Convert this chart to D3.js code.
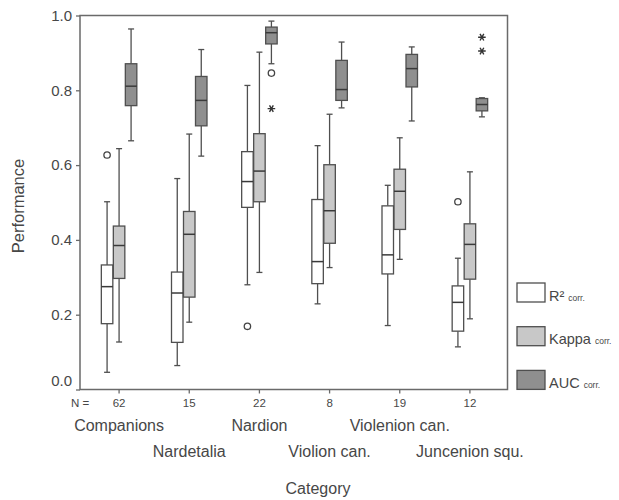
<!DOCTYPE html>
<html>
<head>
<meta charset="utf-8">
<script src="https://cdn.jsdelivr.net/npm/d3@7"></script>
<style>
  body { margin: 0; background: #fff; }
  svg text { font-family: "Liberation Sans", Arial, sans-serif; fill: #474747; }
</style>
</head>
<body>
<svg id="chart" width="619" height="500"></svg>
<script>
// categories and case counts
var categories = ['Companions', 'Nardetalia', 'Nardion', 'Violion can.', 'Violenion can.', 'Juncenion squ.'];
var nValues = [62, 15, 22, 8, 19, 12];
var series = ['R2', 'Kappa', 'AUC'];

// box stats per category: [lower whisker, q1, median, q3, upper whisker]
var r2Stats = [
    [0.046, 0.176, 0.275, 0.333, 0.502],
    [0.064, 0.126, 0.258, 0.314, 0.564],
    [0.280, 0.487, 0.556, 0.636, 0.813],
    [0.229, 0.283, 0.342, 0.508, 0.652],
    [0.171, 0.309, 0.360, 0.491, 0.546],
    [0.114, 0.156, 0.233, 0.277, 0.351]
];
var kappaStats = [
    [0.127, 0.297, 0.385, 0.437, 0.644],
    [0.180, 0.247, 0.415, 0.476, 0.683],
    [0.313, 0.502, 0.584, 0.684, 0.902],
    [0.326, 0.391, 0.478, 0.601, 0.736],
    [0.348, 0.428, 0.530, 0.589, 0.673],
    [0.189, 0.295, 0.388, 0.443, 0.582]
];
var aucStats = [
    [0.665, 0.759, 0.811, 0.871, 0.964],
    [0.624, 0.705, 0.773, 0.837, 0.909],
    [0.871, 0.924, 0.954, 0.969, 0.985],
    [0.753, 0.773, 0.802, 0.880, 0.929],
    [0.718, 0.809, 0.858, 0.896, 0.916],
    [0.729, 0.745, 0.762, 0.778, 0.780]
];

// outliers (circle) and extremes (star)
var outliers = [
    {cat: 'Companions', s: 'R2', v: 0.627},
    {cat: 'Nardion', s: 'R2', v: 0.169},
    {cat: 'Nardion', s: 'AUC', v: 0.846},
    {cat: 'Juncenion squ.', s: 'R2', v: 0.502}
];
var extremes = [
    {cat: 'Nardion', s: 'AUC', v: 0.751},
    {cat: 'Juncenion squ.', s: 'AUC', v: 0.942},
    {cat: 'Juncenion squ.', s: 'AUC', v: 0.905}
];

var yTicks = [0, 0.2, 0.4, 0.6, 0.8, 1.0];
var legendLabels = [
    {s: 'R2', main: 'R\u00b2', sub: 'corr.'},
    {s: 'Kappa', main: 'Kappa', sub: 'corr.'},
    {s: 'AUC', main: 'AUC', sub: 'corr.'}
];

var fills = {R2: '#ffffff', Kappa: '#c8c8c8', AUC: '#8f8f8f'};
var strokeCol = '#4f4f4f';

var svg = d3.select('#chart');
var frame = {left: 80, right: 507.5, top: 15.5, bottom: 389.5};

var y = d3.scaleLinear().domain([0, 1]).range([389.5, 15.5]);
var x = d3.scaleBand().domain(categories).range([84, 505]);
var xs = d3.scaleBand().domain(series).range([-18, 18]);

var boxW = 11.5, capW = 6;

// frame
svg.append('rect')
    .attr('x', frame.left).attr('y', frame.top)
    .attr('width', frame.right - frame.left).attr('height', frame.bottom - frame.top)
    .attr('fill', 'none').attr('stroke', '#6a6a6a').attr('stroke-width', 1.5);

// y axis
var yAxis = svg.append('g')
    .attr('transform', 'translate(' + frame.left + ',0)')
    .call(d3.axisLeft(y).tickValues(yTicks).tickFormat(d3.format('.1f')).tickSize(4).tickPadding(4));
yAxis.select('.domain').remove();
yAxis.selectAll('line').attr('stroke', '#6a6a6a').attr('stroke-width', 1.3);
yAxis.selectAll('text').attr('font-size', '15px').style('font-family', '"Liberation Sans", Arial, sans-serif').attr('fill', '#474747');
yAxis.selectAll('.tick').filter(function (d) { return d === 0; }).select('text').attr('y', -9);

// x axis with N counts
var xAxis = svg.append('g')
    .attr('transform', 'translate(0,' + frame.bottom + ')')
    .call(d3.axisBottom(x).tickFormat(function (d, i) { return nValues[i]; }).tickSize(4).tickPadding(5));
xAxis.select('.domain').remove();
xAxis.selectAll('line').attr('stroke', '#6a6a6a').attr('stroke-width', 1.3);
xAxis.selectAll('text').attr('font-size', '11.5px').style('font-family', '"Liberation Sans", Arial, sans-serif').attr('fill', '#474747');

svg.append('text').attr('x', 71).attr('y', 407).attr('font-size', '11.5px').text('N =');

// category labels in two rows
svg.selectAll('.cat-label').data(categories).enter().append('text')
    .attr('class', 'cat-label')
    .attr('x', function (d) { return x(d) + x.bandwidth() / 2; })
    .attr('y', function (d, i) { return i % 2 === 0 ? 430.5 : 457; })
    .attr('text-anchor', 'middle')
    .attr('font-size', '16px')
    .text(function (d) { return d; });

// axis titles
svg.append('text').attr('x', 318).attr('y', 494).attr('text-anchor', 'middle').attr('font-size', '16px').text('Category');
svg.append('text').attr('transform', 'translate(24,206) rotate(-90)').attr('text-anchor', 'middle').attr('font-size', '16.5px').text('Performance');

// build box records
var statsBySeries = {R2: r2Stats, Kappa: kappaStats, AUC: aucStats};
var boxes = [];
categories.forEach(function (c, i) {
    series.forEach(function (s) {
        var st = statsBySeries[s][i];
        boxes.push({cat: c, s: s, lo: st[0], q1: st[1], med: st[2], q3: st[3], hi: st[4]});
    });
});

function cx(d) { return x(d.cat) + x.bandwidth() / 2 + xs(d.s) + xs.bandwidth() / 2; }

var g = svg.append('g').attr('stroke', strokeCol).attr('stroke-width', 1.3);
var box = g.selectAll('.box').data(boxes).enter().append('g').attr('class', 'box');

// whiskers
box.append('line')
    .attr('x1', cx).attr('x2', cx)
    .attr('y1', function (d) { return y(d.hi); }).attr('y2', function (d) { return y(d.q3); });
box.append('line')
    .attr('x1', cx).attr('x2', cx)
    .attr('y1', function (d) { return y(d.q1); }).attr('y2', function (d) { return y(d.lo); });
box.append('line')
    .attr('x1', function (d) { return cx(d) - capW / 2; }).attr('x2', function (d) { return cx(d) + capW / 2; })
    .attr('y1', function (d) { return y(d.hi); }).attr('y2', function (d) { return y(d.hi); });
box.append('line')
    .attr('x1', function (d) { return cx(d) - capW / 2; }).attr('x2', function (d) { return cx(d) + capW / 2; })
    .attr('y1', function (d) { return y(d.lo); }).attr('y2', function (d) { return y(d.lo); });

// boxes and medians
box.append('rect')
    .attr('x', function (d) { return cx(d) - boxW / 2; })
    .attr('y', function (d) { return y(d.q3); })
    .attr('width', boxW)
    .attr('height', function (d) { return y(d.q1) - y(d.q3); })
    .attr('fill', function (d) { return fills[d.s]; });
box.append('line')
    .attr('x1', function (d) { return cx(d) - boxW / 2; }).attr('x2', function (d) { return cx(d) + boxW / 2; })
    .attr('y1', function (d) { return y(d.med); }).attr('y2', function (d) { return y(d.med); })
    .attr('stroke', '#3a3a3a').attr('stroke-width', 1.5);

// outliers
g.selectAll('.outlier').data(outliers).enter().append('circle')
    .attr('class', 'outlier')
    .attr('cx', cx).attr('cy', function (d) { return y(d.v); })
    .attr('r', 3.2).attr('fill', '#fff').attr('stroke', '#444');

g.selectAll('.extreme').data(extremes).enter().append('path')
    .attr('class', 'extreme')
    .attr('transform', function (d) { return 'translate(' + cx(d) + ',' + y(d.v) + ') rotate(90)'; })
    .attr('d', d3.symbol().type(d3.symbolAsterisk).size(40))
    .attr('fill', 'none').attr('stroke', '#333').attr('stroke-width', 1.4);

// legend
var leg = svg.selectAll('.legend').data(legendLabels).enter().append('g')
    .attr('class', 'legend')
    .attr('transform', function (d, i) { return 'translate(517,' + (283 + i * 43.7) + ')'; });
leg.append('rect')
    .attr('width', 28).attr('height', 19)
    .attr('fill', function (d) { return fills[d.s]; })
    .attr('stroke', strokeCol).attr('stroke-width', 1.3);
var lt = leg.append('text').attr('x', 32).attr('y', 17.5).attr('font-size', '14.5px');
lt.append('tspan').text(function (d) { return d.main; });
lt.append('tspan').attr('dx', 4).attr('font-size', '8.5px').text(function (d) { return d.sub; });
</script>
</body>
</html>
